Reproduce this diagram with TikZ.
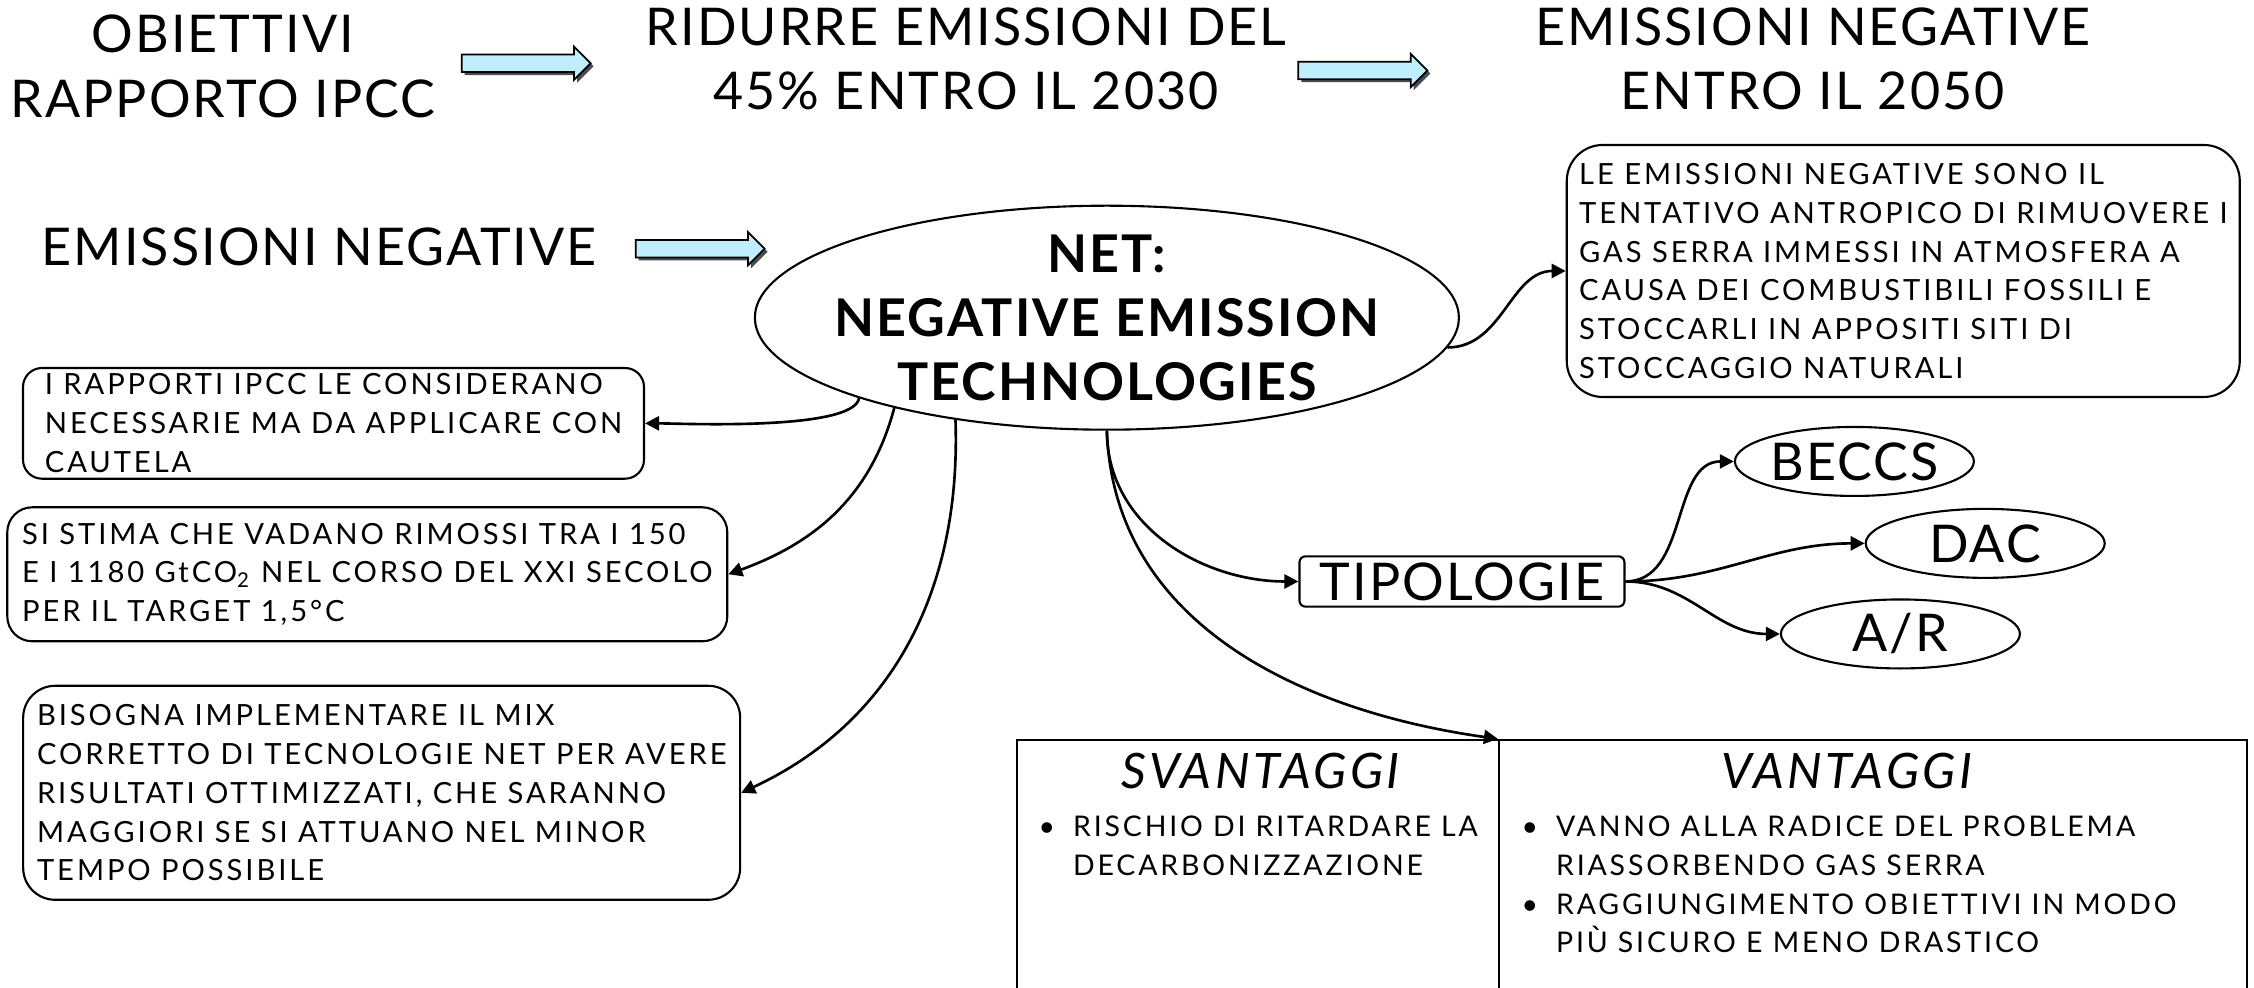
\documentclass[tikz,border=0pt]{standalone}
\usepackage{fontspec}
\setmainfont{Lato}[LetterSpace=4]
\newfontfamily\boxfont{Lato}[LetterSpace=10]
\newfontfamily\headfont{Lato}[LetterSpace=7]
\usetikzlibrary{shapes.geometric,shapes.arrows,arrows.meta,shadows}
\definecolor{arrowblue}{RGB}{191,239,255}
\newcommand{\bul}[1]{\makebox[3.45mm][l]{\textbullet}#1}
\newcommand{\cont}[1]{\hspace*{3.45mm}#1}

\begin{document}
\begin{tikzpicture}[x=0.14375mm, y=-0.14375mm,
	title/.style={font=\fontsize{14.8}{18.4}\selectfont, align=center, inner sep=0pt},
	note/.style={draw, line width=0.6pt, align=left, inner sep=0pt,
		font=\boxfont\fontsize{8.3}{11.04}\selectfont},
	kind/.style={draw, ellipse, line width=0.6pt, inner sep=0pt,
		minimum width=23.9mm, minimum height=6.9mm, font=\fontsize{14.8}{18.4}\selectfont},
	plain/.style={draw, line width=0.6pt, anchor=north west, minimum height=28mm, inner sep=0pt},
	head/.style={font=\headfont\fontsize{13.9}{16}\selectfont\itshape, inner sep=0pt},
	list/.style={align=left, anchor=north west, inner sep=0pt,
		font=\boxfont\fontsize{8.1}{11.04}\selectfont},
	blockarrow/.style={single arrow, draw, fill=arrowblue, line width=0.5pt,
		inner xsep=0pt, inner ysep=0.79mm,
		minimum height=12.9mm, minimum width=3.16mm, single arrow head extend=0.79mm,
		drop shadow={shadow xshift=0.3mm, shadow yshift=-0.3mm, fill=black!70, opacity=1}},
	link/.style={line width=0.75pt, -{Triangle[length=1.4mm, width=1.4mm]}}]
	\useasboundingbox (0,0) rectangle (1568,687);
	\clip (0,0) rectangle (1568,687);

	% top row
	\node[title] (goals) at (155,46) {OBIETTIVI\\RAPPORTO IPCC};
	\node[title] (cut) at (672,41) {RIDURRE EMISSIONI DEL\\45\% ENTRO IL 2030};
	\node[title] (neg2050) at (1261,41) {EMISSIONI NEGATIVE\\ENTRO IL 2050};
	\node[blockarrow] (arrA) at (363,44) {};
	\node[blockarrow] (arrB) at (945,49) {};

	\node[title] (negem) at (222,172) {EMISSIONI NEGATIVE};
	\node[blockarrow] (arrC) at (484,173) {};

	\node[draw, ellipse, line width=0.6pt, minimum width=70.4mm, minimum height=22.4mm,
		inner xsep=-3mm, inner ysep=-0.6mm, align=center, font=\fontsize{14.8}{18.2}\selectfont\bfseries]
		(net) at (770,221) {NET:\\NEGATIVE EMISSION\\TECHNOLOGIES};

	% boxes of notes
	\node[note, rounded corners=3.6mm, minimum width=67.3mm, minimum height=25.2mm]
		(def) at (1324,188.5) {LE EMISSIONI NEGATIVE SONO IL\\TENTATIVO ANTROPICO DI RIMUOVERE I\\
		GAS SERRA IMMESSI IN ATMOSFERA A\\CAUSA DEI COMBUSTIBILI FOSSILI E\\
		STOCCARLI IN APPOSITI SITI DI\\STOCCAGGIO NATURALI};
	\node[note, rounded corners=1.9mm, minimum width=62.1mm, minimum height=11.07mm]
		(ipcc) at (232,294.5) {I RAPPORTI IPCC LE CONSIDERANO\\NECESSARIE MA DA APPLICARE CON\\CAUTELA};
	\node[note, rounded corners=2.5mm, minimum width=72mm, minimum height=13.4mm]
		(stima) at (255.5,399.5) {SI STIMA CHE VADANO RIMOSSI TRA I 150\\
		E I 1180 GtCO\textsubscript{2} NEL CORSO DEL XXI SECOLO\\PER IL TARGET 1,5°C};
	\node[note, rounded corners=3.2mm, minimum width=71.7mm, minimum height=21.4mm]
		(mix) at (265.5,551.5) {BISOGNA IMPLEMENTARE IL MIX\\CORRETTO DI TECNOLOGIE NET PER AVERE\\
		RISULTATI OTTIMIZZATI, CHE SARANNO\\MAGGIORI SE SI ATTUANO NEL MINOR\\TEMPO POSSIBILE};

	% types
	\node[draw, rounded corners=0.6mm, line width=0.6pt, minimum width=32.5mm, minimum height=5.03mm,
		inner sep=0pt, font=\fontsize{14.8}{18.4}\selectfont] (types) at (1017,404.5) {TIPOLOGIE};
	\node[kind] (beccs) at (1290,321) {BECCS};
	\node[kind] (dac) at (1381,378) {DAC};
	\node[kind] (ar) at (1322,441) {A/R};

	% pros and cons
	\node[plain, minimum width=48.2mm] (svbox) at (707,514) {};
	\node[plain, minimum width=74.8mm] (vbox) at (1042,514) {};
	\node[head] (svt) at (877,536) {SVANTAGGI};
	\node[head] (vt) at (1285,536) {VANTAGGI};
	\node[list] (cons) at (722,567) {\bul{RISCHIO DI RITARDARE LA}\\\cont{DECARBONIZZAZIONE}};
	\node[list] (pros) at (1058,567) {\bul{VANNO ALLA RADICE DEL PROBLEMA}\\\cont{RIASSORBENDO GAS SERRA}\\
		\bul{RAGGIUNGIMENTO OBIETTIVI IN MODO}\\\cont{PIÙ SICURO E MENO DRASTICO}};

	% connectors
	\draw[link] (net.355) to[out=0, in=180] (def.west);
	\draw[link] (net.198) to[out=-100, in=0, looseness=0.4] (ipcc.east);
	\draw[link] (net.203) to[out=-105, in=20] (stima.east);
	\draw[link] (net.214) to[out=-88, in=25] (mix.east);
	\draw[link] (net.south) to[out=-90, in=180] (types.west);
	\draw[link] (net.south) to[out=-88, in=172] (vbox.north west);
	\foreach \t in {beccs,dac,ar}
		\draw[link] (types.east) to[out=0, in=180] (\t.west);
\end{tikzpicture}
\end{document}
